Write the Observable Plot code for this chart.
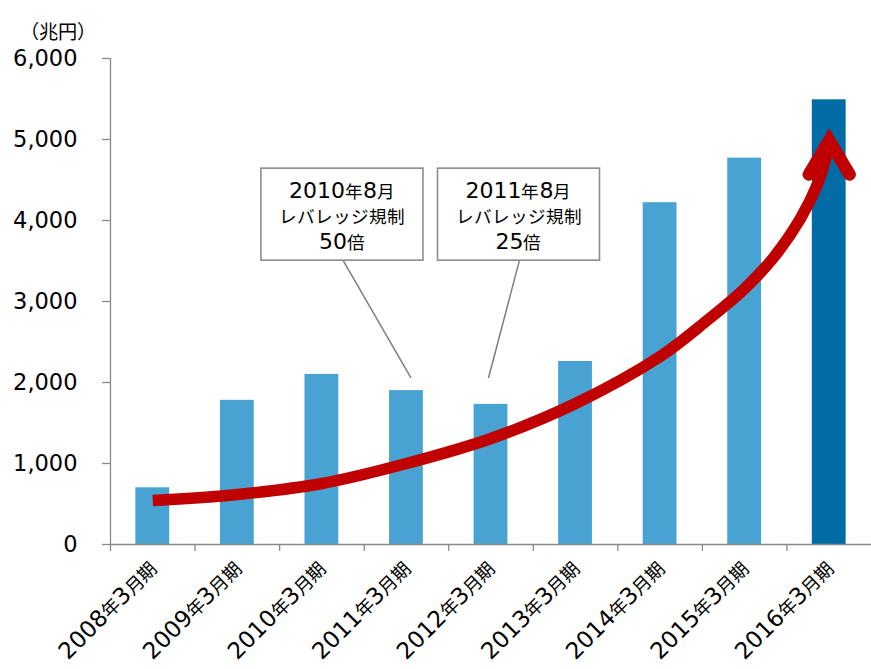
<!DOCTYPE html>
<html>
<head>
<meta charset="utf-8">
<style>
@font-face {
  font-family: "JPs";
  src: local("Noto Sans CJK JP"), local("Noto Sans CJK JP Regular"), local("NotoSansCJKjp-Regular");
  size-adjust: 80%;
}
html, body { margin: 0; padding: 0; background: #fff; }
svg { font-family: "DejaVu Sans", "JPs", "Noto Sans CJK JP", sans-serif; }
</style>
<script src="https://cdn.jsdelivr.net/npm/d3@7"></script>
<script src="https://cdn.jsdelivr.net/npm/@observablehq/plot@0.6"></script>
</head>
<body>
<div id="chart"></div>
<script>
const categories = ["2008年3月期","2009年3月期","2010年3月期","2011年3月期","2012年3月期","2013年3月期","2014年3月期","2015年3月期","2016年3月期"];
const values = [700, 1780, 2100, 1900, 1730, 2260, 4220, 4770, 5490];
// red trend arrow: position in category units, value in 兆円
const trendPos = [0, 1, 2, 3, 4, 5, 6, 6.56, 7, 7.34, 7.66, 7.86, 7.95, 8];
const trendVal = [543, 617, 753, 1000, 1309, 1741, 2321, 2770, 3160, 3540, 4025, 4444, 4728, 4988];
const yTicks = [0, 1000, 2000, 3000, 4000, 5000, 6000];
const highlight = "2016年3月期";
const unitLabel = "（兆円）";
const calloutTargets = ["2011年3月期", "2012年3月期"];
const calloutLines = [
  ["2010年8月", "レバレッジ規制", "50倍"],
  ["2011年8月", "レバレッジ規制", "25倍"]
];

const data = categories.map((c, i) => ({category: c, index: i, value: values[i]}));
const trendData = trendPos.map((p, i) => ({pos: p, value: trendVal[i]}));
const boundaries = categories.map((c, i) => i - 0.5);

const light = "#48A3D3";
const dark = "#006CA5";
const red = "#C00000";
const axisGray = "#8a8a8a";
const font = `"DejaVu Sans", "JPs", "Noto Sans CJK JP", sans-serif`;
const halfBar = 0.2;

const chevron = {
  draw(context, size) {
    const r = Math.sqrt(size / Math.PI);
    const w = 0.6 * r;
    context.moveTo(-w, r);
    context.lineTo(0, 0);
    context.lineTo(w, r);
  }
};

const chart = Plot.plot({
  width: 871,
  height: 669,
  marginLeft: 110,
  marginRight: 0,
  marginTop: 58,
  marginBottom: 125,
  style: {fontFamily: font, background: "#fff", overflow: "visible"},
  x: {type: "linear", domain: [-0.5, categories.length - 0.5], axis: null},
  y: {domain: [0, 6000], axis: null},
  color: {type: "identity"},
  marks: [
    Plot.rectY(data, {x1: d => d.index - halfBar, x2: d => d.index + halfBar, y: "value", fill: d => d.category === highlight ? dark : light}),
    Plot.ruleY([0], {stroke: axisGray, strokeWidth: 1.3}),
    Plot.ruleX([boundaries[0]], {y1: 0, y2: 6000, stroke: axisGray, strokeWidth: 1.3}),
    Plot.axisX({ticks: boundaries, tickFormat: () => "", tickSize: 7, stroke: axisGray, strokeWidth: 1.3, label: null}),
    Plot.axisY({ticks: yTicks, tickFormat: d3.format(","), tickSize: 8, tickPadding: 25, fontSize: 22.5, stroke: axisGray, strokeWidth: 1.3, fill: "#000", label: null}),
    Plot.line(trendData, {x: "pos", y: "value", curve: "catmull-rom", stroke: red, strokeWidth: 11.5, strokeLinecap: "butt"}),
    Plot.dot(trendData.slice(-1), {x: "pos", y: "value", symbol: chevron, r: 34, fill: "none", stroke: red, strokeWidth: 12.5, strokeLinecap: "round", strokeLinejoin: "miter"}),
    Plot.text(data, {x: "index", text: "category", frameAnchor: "bottom", dy: 21, rotate: -45, textAnchor: "end", lineAnchor: "middle", fontSize: 23, fill: "#000"}),
    Plot.text([unitLabel], {frameAnchor: "top-left", textAnchor: "middle", dx: -53, dy: -37, fontSize: 24, fill: "#000"})
  ]
});

// Callouts positioned through Plot's own scales
const sx = chart.scale("x");
const sy = chart.scale("y");
const cx = c => sx.apply(categories.indexOf(c));
const g = d3.select(chart).append("g");

const boxDx = [-64, 28];
const lineEndDx = [5, -2];
const boxTopValue = 4640;
const pointValue = 2050;
const boxW = 162, boxH = 92;
calloutTargets.forEach((t, i) => {
  const bx = cx(t) + boxDx[i];
  const top = sy.apply(boxTopValue);
  g.append("line")
    .attr("x1", bx + 1).attr("y1", top + boxH)
    .attr("x2", cx(t) + lineEndDx[i]).attr("y2", sy.apply(pointValue))
    .attr("stroke", "#7f7f7f").attr("stroke-width", 1.5);
  g.append("rect")
    .attr("x", bx - boxW / 2).attr("y", top)
    .attr("width", boxW).attr("height", boxH)
    .attr("fill", "#fff").attr("stroke", "#8c8c8c").attr("stroke-width", 1.6);
  const offs = [30, 55, 81];
  calloutLines[i].forEach((s, j) => {
    g.append("text")
      .attr("x", bx).attr("y", top + offs[j])
      .attr("text-anchor", "middle")
      .attr("font-size", 22)
      .attr("fill", "#000")
      .text(s);
  });
});

document.getElementById("chart").appendChild(chart);
</script>
</body>
</html>
